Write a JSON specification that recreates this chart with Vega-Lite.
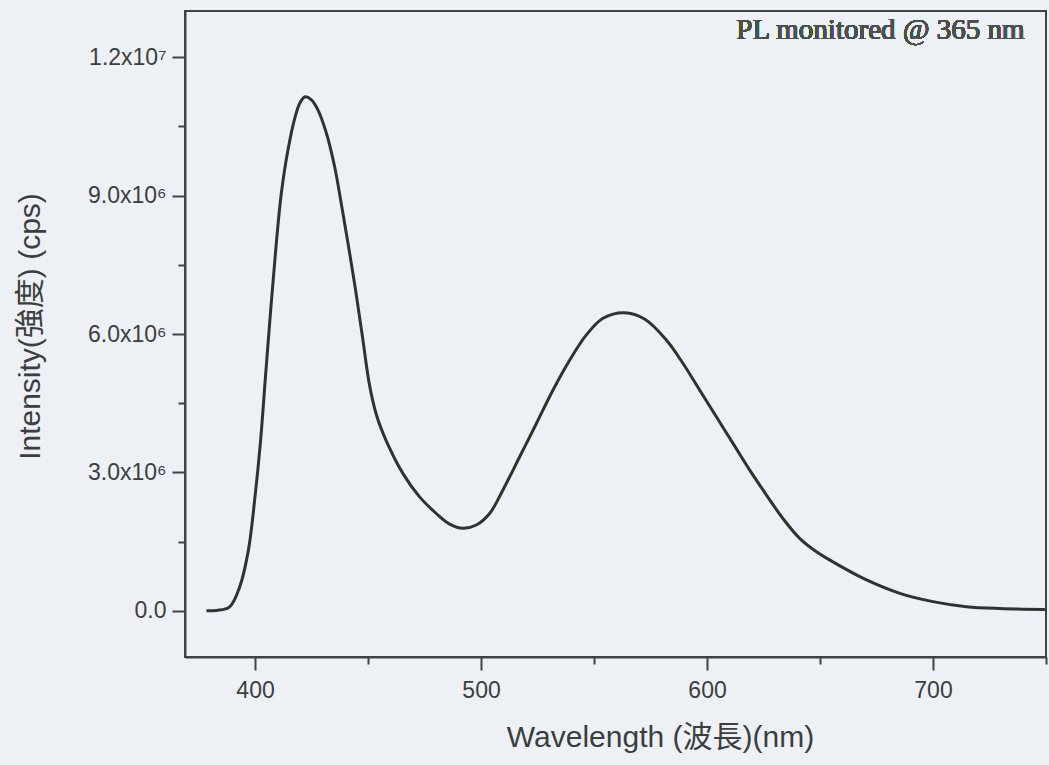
{
  "$schema": "https://vega.github.io/schema/vega-lite/v6.json",
  "width": 861,
  "height": 646,
  "autosize": {"type": "none"},
  "padding": {"left": 185, "top": 11, "right": 3, "bottom": 108},
  "background": "#edf0f5",
  "config": {
    "view": {"stroke": "#3d4441", "strokeWidth": 2},
    "axis": {
      "labelFont": "'Liberation Sans', Arial, sans-serif",
      "labelFontSize": 23,
      "labelColor": "#3a3f3d",
      "titleFont": "'Liberation Sans', 'Noto Sans CJK TC', sans-serif",
      "titleFontSize": 30,
      "titleFontWeight": "normal",
      "titleColor": "#3a3f3d",
      "domainColor": "#3d4441",
      "domainWidth": 2,
      "tickColor": "#3d4441",
      "tickWidth": 2,
      "grid": false
    }
  },
  "data": {
    "values": [
      {"wl": 378.5, "intensity": 0},
      {"wl": 383, "intensity": 10000},
      {"wl": 388.6, "intensity": 80000},
      {"wl": 393.2, "intensity": 520000},
      {"wl": 397.0, "intensity": 1300000},
      {"wl": 400.1, "intensity": 2530000},
      {"wl": 402.4, "intensity": 3660000},
      {"wl": 404.6, "intensity": 5070000},
      {"wl": 407.0, "intensity": 6570000},
      {"wl": 409.3, "intensity": 7910000},
      {"wl": 411.6, "intensity": 9040000},
      {"wl": 414.6, "intensity": 10000000},
      {"wl": 417.6, "intensity": 10680000},
      {"wl": 420.0, "intensity": 11020000},
      {"wl": 422.2, "intensity": 11140000},
      {"wl": 424.8, "intensity": 11080000},
      {"wl": 427.6, "intensity": 10880000},
      {"wl": 431.4, "intensity": 10380000},
      {"wl": 435.2, "intensity": 9630000},
      {"wl": 438.2, "intensity": 8810000},
      {"wl": 441.3, "intensity": 7920000},
      {"wl": 444.4, "intensity": 6980000},
      {"wl": 447.5, "intensity": 5950000},
      {"wl": 450.7, "intensity": 4880000},
      {"wl": 454.0, "intensity": 4200000},
      {"wl": 458.1, "intensity": 3680000},
      {"wl": 465.4, "intensity": 2980000},
      {"wl": 472.8, "intensity": 2470000},
      {"wl": 480.2, "intensity": 2110000},
      {"wl": 486.1, "intensity": 1880000},
      {"wl": 492.0, "intensity": 1790000},
      {"wl": 497.9, "intensity": 1860000},
      {"wl": 503.8, "intensity": 2110000},
      {"wl": 509.7, "intensity": 2620000},
      {"wl": 517.1, "intensity": 3340000},
      {"wl": 524.5, "intensity": 4060000},
      {"wl": 531.8, "intensity": 4780000},
      {"wl": 539.2, "intensity": 5430000},
      {"wl": 546.6, "intensity": 5980000},
      {"wl": 554.0, "intensity": 6340000},
      {"wl": 563.5, "intensity": 6460000},
      {"wl": 572.5, "intensity": 6320000},
      {"wl": 582.0, "intensity": 5870000},
      {"wl": 589.4, "intensity": 5360000},
      {"wl": 596.8, "intensity": 4780000},
      {"wl": 604.2, "intensity": 4200000},
      {"wl": 611.5, "intensity": 3630000},
      {"wl": 618.9, "intensity": 3050000},
      {"wl": 626.3, "intensity": 2510000},
      {"wl": 633.6, "intensity": 2000000},
      {"wl": 641.0, "intensity": 1570000},
      {"wl": 648.4, "intensity": 1280000},
      {"wl": 655.8, "intensity": 1060000},
      {"wl": 670.6, "intensity": 670000},
      {"wl": 685.3, "intensity": 380000},
      {"wl": 700.0, "intensity": 200000},
      {"wl": 714.8, "intensity": 90000},
      {"wl": 729.6, "intensity": 50000},
      {"wl": 749.5, "intensity": 30000}
    ]
  },
  "layer": [
    {
      "mark": {"type": "line", "color": "#2b3530", "strokeWidth": 3, "interpolate": "catmull-rom", "clip": true},
      "encoding": {
        "x": {
          "field": "wl",
          "type": "quantitative",
          "scale": {"domain": [369, 750], "nice": false, "zero": false},
          "axis": {
            "title": "Wavelength (波長)(nm)",
            "values": [400, 450, 500, 550, 600, 650, 700, 750],
            "labelExpr": "datum.value % 100 === 0 ? datum.label : ''",
            "format": "d",
            "tickSize": {"condition": {"test": "datum.value % 100 === 0", "value": 13}, "value": 7},
            "labelPadding": 9,
            "titleX": 475,
            "titleY": 80,
            "titleAnchor": null,
            "titleAlign": "center",
            "titleBaseline": "middle"
          }
        },
        "y": {
          "field": "intensity",
          "type": "quantitative",
          "scale": {"domain": [-1000000, 13000000], "nice": false, "zero": false},
          "axis": {
            "title": "Intensity(強度) (cps)",
            "values": [0, 1500000, 3000000, 4500000, 6000000, 7500000, 9000000, 10500000, 12000000],
            "labelExpr": "datum.value === 0 ? '0.0' : datum.value === 3000000 ? '3.0x10⁶' : datum.value === 6000000 ? '6.0x10⁶' : datum.value === 9000000 ? '9.0x10⁶' : datum.value === 12000000 ? '1.2x10⁷' : ''",
            "tickSize": {"condition": {"test": "datum.value % 3000000 === 0", "value": 13}, "value": 7},
            "labelPadding": 6,
            "titleX": -155,
            "titleY": 315,
            "titleAngle": -90,
            "titleAlign": "center",
            "titleBaseline": "middle"
          }
        }
      }
    },
    {
      "mark": {"type": "text", "text": "PL monitored @ 365 nm", "font": "'Liberation Serif', 'Times New Roman', serif", "fontSize": 29, "fontWeight": "normal", "color": "#4a504d", "align": "right", "baseline": "alphabetic"},
      "encoding": {
        "x": {"datum": 740.5, "type": "quantitative"},
        "y": {"datum": 12400000, "type": "quantitative"}
      }
    }
  ]
}
